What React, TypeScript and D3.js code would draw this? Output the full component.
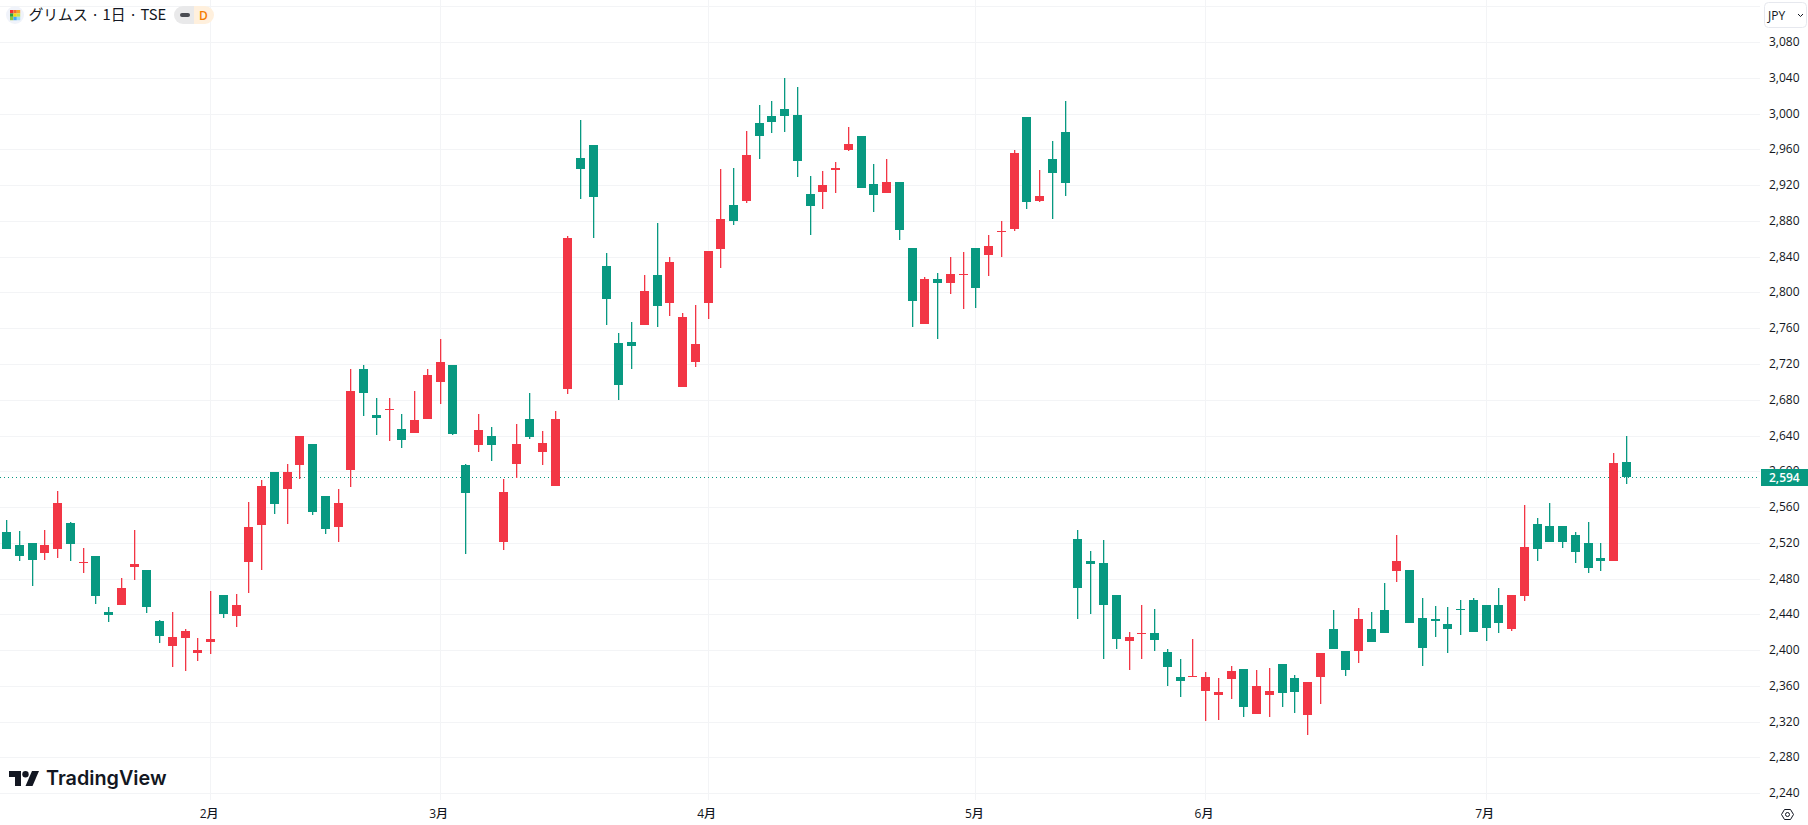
import React from 'react';
import * as d3 from 'd3';

const opens = [
  2532.5, 2518, 2520, 2509, 2513.5, 2542.6, 2498, 2505.7, 2443, 2451,
  2493.4, 2490, 2433, 2405, 2414, 2397, 2409.5, 2462, 2438.5, 2499,
  2540, 2599.6, 2580.6, 2607.4, 2631, 2572.7, 2538, 2601.8, 2714.8, 2663,
  2669, 2647.7, 2643, 2659, 2700, 2720, 2607.4, 2630, 2640, 2521,
  2608.5, 2659, 2622, 2584, 2692.5, 2951, 2965.4, 2830, 2744, 2745,
  2764, 2820, 2788.7, 2694.7, 2722.7, 2788.7, 2849, 2898, 2902.8, 2990,
  2997.9, 3005.7, 2999, 2910.6, 2913, 2937.5, 2959.8, 2975.5, 2921.8, 2911.7,
  2924, 2850, 2765, 2815.5, 2811, 2820, 2850, 2842.4, 2868, 2871.5,
  2996.7, 2903, 2950, 2980, 2525, 2500, 2498, 2462, 2410.7, 2418.6,
  2419.7, 2398.4, 2370.5, 2370.5, 2354.8, 2350, 2368, 2379.4, 2329, 2350,
  2385, 2369.3, 2328, 2370.5, 2424, 2399.6, 2399.5, 2424, 2445, 2489,
  2490, 2436.4, 2435.3, 2429.7, 2446.5, 2456.5, 2451, 2451, 2424, 2461,
  2541.6, 2539.3, 2539.3, 2529, 2520, 2503.5, 2500, 2611,
];
const highs = [
  2546, 2533.6, 2520.2, 2534.7, 2578.4, 2543.7, 2514.6, 2505.7, 2448.6, 2481,
  2534.7, 2490, 2434, 2443, 2424, 2414, 2466.5, 2462, 2463, 2566,
  2591, 2599.6, 2608.6, 2640, 2631, 2572.7, 2580.5, 2714.8, 2719, 2682,
  2682, 2664.4, 2690, 2714.8, 2748, 2720, 2608.5, 2664.4, 2650, 2591.7,
  2654, 2688, 2645.4, 2667.8, 2863.6, 2993.4, 2965.4, 2844.6, 2755, 2767,
  2820, 2878, 2840, 2777.5, 2786.4, 2847, 2938.6, 2939.7, 2981, 3010,
  3014.6, 3040, 3030, 2930.7, 2936, 2946.4, 2985.6, 2975.5, 2944, 2949.8,
  2924, 2850, 2817.8, 2822, 2840, 2845.7, 2850, 2864.7, 2880.4, 2960,
  2996.7, 2937.5, 2970, 3014.6, 2535, 2511.4, 2523.7, 2462, 2420.8, 2451,
  2446.5, 2401.8, 2390.6, 2413, 2376, 2369.3, 2382.8, 2379.4, 2378.3, 2380.5,
  2385, 2372.7, 2364.9, 2397.3, 2445.4, 2399.6, 2447.6, 2443, 2475.6, 2529,
  2490, 2458.8, 2449.8, 2448.7, 2456.5, 2458.8, 2451, 2470, 2462, 2562.8,
  2548.3, 2565, 2539.3, 2532.6, 2543.8, 2520, 2621, 2640,
];
const lows = [
  2513.5, 2500, 2472, 2501, 2503.4, 2500, 2486.6, 2452, 2432, 2451,
  2479, 2442, 2408, 2381.5, 2377, 2388, 2396, 2437, 2426, 2465,
  2490, 2552.6, 2541.5, 2592, 2551.5, 2530, 2522, 2582.8, 2662, 2641,
  2635, 2626.4, 2643, 2659, 2675.6, 2641, 2508, 2622, 2612, 2512,
  2593, 2636.5, 2607.4, 2584, 2687, 2905, 2861.4, 2764, 2680, 2715,
  2764, 2762, 2774, 2694.7, 2717, 2770.8, 2827.8, 2876, 2900.5, 2949.8,
  2979, 2980, 2929.6, 2864.7, 2893.8, 2911.7, 2958.7, 2917, 2890.5, 2911.7,
  2859, 2762, 2765, 2748.4, 2798.7, 2782, 2783, 2819, 2840, 2869,
  2893.8, 2902, 2882.6, 2908, 2435, 2441, 2390.6, 2401.8, 2378.3, 2390.6,
  2399.6, 2360.4, 2348, 2370.5, 2321, 2322, 2345.9, 2325.7, 2329, 2325.7,
  2337, 2330, 2305.6, 2340, 2401.8, 2371.6, 2386, 2409.5, 2419.6, 2476.7,
  2430.8, 2382.7, 2415, 2397, 2417, 2420.7, 2410.7, 2419.6, 2421.9, 2455,
  2500, 2521.4, 2514.7, 2498, 2486.7, 2489, 2500, 2586.3,
];
const closes = [
  2513.5, 2505.7, 2501, 2518, 2565, 2519, 2499, 2461, 2439.6, 2470,
  2496.7, 2448.6, 2416, 2415, 2421.8, 2400.5, 2413, 2441, 2451, 2538,
  2584, 2564, 2599.6, 2640, 2555, 2535.8, 2565, 2690, 2688, 2660,
  2670, 2635.4, 2657.7, 2708, 2722.6, 2642, 2576, 2646.5, 2630, 2577,
  2631, 2638.7, 2632, 2659, 2861.4, 2938.6, 2907, 2793, 2697, 2740.6,
  2802, 2785, 2834.5, 2773, 2743, 2847, 2882.6, 2880, 2954, 2975.5,
  2991, 2997.9, 2947.5, 2897, 2920.7, 2939.7, 2966.5, 2917, 2909.5, 2924,
  2870, 2791, 2815.5, 2811, 2821, 2821, 2805.4, 2852.4, 2869, 2956.5,
  2901.6, 2908.5, 2934, 2923, 2470, 2497, 2451, 2413, 2415, 2419.7,
  2412, 2381.7, 2366, 2371.6, 2370.5, 2353.7, 2377, 2337, 2360.4, 2354.8,
  2352.6, 2353.7, 2364.9, 2397.3, 2401.8, 2378.3, 2435.3, 2409.5, 2419.6, 2500,
  2430.8, 2402.8, 2433, 2424, 2445.4, 2420.7, 2425, 2430.8, 2462, 2515.8,
  2513.6, 2521.4, 2521.4, 2510, 2492, 2500, 2609.8, 2594,
];

const gridPrices = [
  3120, 3080, 3040, 3000, 2960, 2920, 2880, 2840, 2800, 2760, 2720, 2680, 2640, 2600,
  2560, 2520, 2480, 2440, 2400, 2360, 2320, 2280, 2240,
];
const boldPrices = [3000, 2800, 2600, 2400];
const monthLabels = ['2月', '3月', '4月', '5月', '6月', '7月'];
const monthIndex = [16, 34, 55, 76, 94, 116];
const lastPrice = 2594;

const UP = '#F23645';
const DOWN = '#089981';
const GRID = '#f3f4f6';
const TEXT = '#131722';
const FONT = '"Open Sans", "Noto Sans CJK JP", sans-serif';

const paneRight = 1760;
const paneBottom = 800;

const App: React.FC = () => {
  const x = d3.scaleLinear().domain([0, opens.length - 1]).range([6.5, 1626.5]);
  const y = d3.scaleLinear().domain([2240, 3080]).range([793.7, 42.6]);
  const row = (p: number) => Math.floor(y(p)) + 0.5;
  const fmt = d3.format(',');
  const lastY = row(lastPrice);

  const logoCells = ['#f23030', '#f2702e', '#f5a623', '#2e9e3f', '#f5d90a', '#c3e34c', '#8bc53f', '#3fa9f5', '#9adcf5'];

  return (
    <svg
      width={1808}
      height={825}
      style={{ position: 'absolute', left: 0, top: 0, background: '#fff', fontFamily: FONT }}
    >
      {/* grid */}
      <g stroke={GRID} strokeWidth={1}>
        {gridPrices.map(p => (
          <line key={p} x1={0} x2={paneRight} y1={row(p)} y2={row(p)} />
        ))}
        {monthIndex.map(i => (
          <line key={i} x1={Math.floor(x(i)) + 0.5} x2={Math.floor(x(i)) + 0.5} y1={0} y2={paneBottom} />
        ))}
      </g>

      {/* last price line */}
      <line x1={0} x2={paneRight} y1={lastY} y2={lastY} stroke={DOWN} strokeWidth={1} strokeDasharray="1 3" />

      {/* candles */}
      {opens.map((o, i) => {
        const c = closes[i];
        const color = c >= o ? UP : DOWN;
        const cx = Math.floor(x(i));
        const top = Math.round(y(Math.max(o, c)));
        const bottom = Math.round(y(Math.min(o, c)));
        const wickTop = Math.round(y(highs[i]));
        const wickBottom = Math.round(y(lows[i]));
        return (
          <g key={i} fill={color}>
            <rect x={cx} y={wickTop} width={1.3} height={Math.max(wickBottom - wickTop, 1)} />
            <rect x={cx - 4} y={top} width={9} height={Math.max(bottom - top, 1)} shapeRendering="crispEdges" />
          </g>
        );
      })}

      {/* header */}
      <circle cx={15} cy={15} r={9} fill="#f0f3fa" />
      {logoCells.map((color, k) => (
        <rect key={k} x={10 + (k % 3) * 3.4} y={10 + Math.floor(k / 3) * 3.4} width={3.4} height={3.4} fill={color} />
      ))}
      <text x={28.5} y={20} fontSize={14.8} fill={TEXT} fontFamily={'"Noto Sans CJK JP", sans-serif'}>
        グリムス · 1日 · TSE
      </text>
      <path d="M194 6H183a9 9 0 0 0 0 18H194Z" fill="#e9e9ea" />
      <path d="M194 6H205a9 9 0 0 1 0 18H194Z" fill="#fff0dd" />
      <rect x={180} y={13} width={10} height={4} rx={2} fill="#4a4c52" />
      <text x={203.5} y={20} fontSize={12} fontWeight={600} textAnchor="middle" fill="#f57c00">D</text>

      {/* watermark */}
      <g fill="#131722">
        <path d="M9 771H21V786H15V777H9Z" />
        <circle cx={25.5} cy={774.3} r={3.2} />
        <path d="M32 771H39L32.5 786H25.5Z" />
        <text x={46} y={785} fontSize={19.8} fontWeight={600} fontFamily="Inter, sans-serif">TradingView</text>
      </g>

      {/* price axis */}
      <g fontSize={12} fill={TEXT}>
        {gridPrices.filter(p => p < 3120).map(p => (
          <text key={p} x={1769} y={row(p) + 3.5} fontWeight={boldPrices.includes(p) ? 500 : 400}>
            {fmt(p)}
          </text>
        ))}
      </g>
      <rect x={1761} y={469} width={47} height={17} fill={DOWN} />
      <text x={1769} y={lastY + 4} fontSize={12} fontWeight={600} fill="#fff">{fmt(lastPrice)}</text>

      {/* currency button */}
      <rect x={1764.5} y={2.5} width={42} height={25} rx={4} fill="#fff" stroke="#e6e8ee" />
      <text x={1768} y={19.5} fontSize={12} fill={TEXT}>JPY</text>
      <path d="M1798 14l2.5 2.5L1803 14" fill="none" stroke={TEXT} strokeWidth={1} />

      {/* time axis */}
      <g fontSize={12} fontWeight={500} fill={TEXT} textAnchor="middle">
        {monthLabels.map((label, k) => (
          <text key={label} x={x(monthIndex[k]) - 1.5} y={818}>{label}</text>
        ))}
      </g>

      {/* settings icon */}
      <g fill="none" stroke={TEXT} strokeWidth={1}>
        <path d="M1781.5 814.5l3-5h6l3 5-3 5h-6Z" />
        <circle cx={1787.5} cy={814.5} r={2} />
      </g>
    </svg>
  );
};

export default App;
